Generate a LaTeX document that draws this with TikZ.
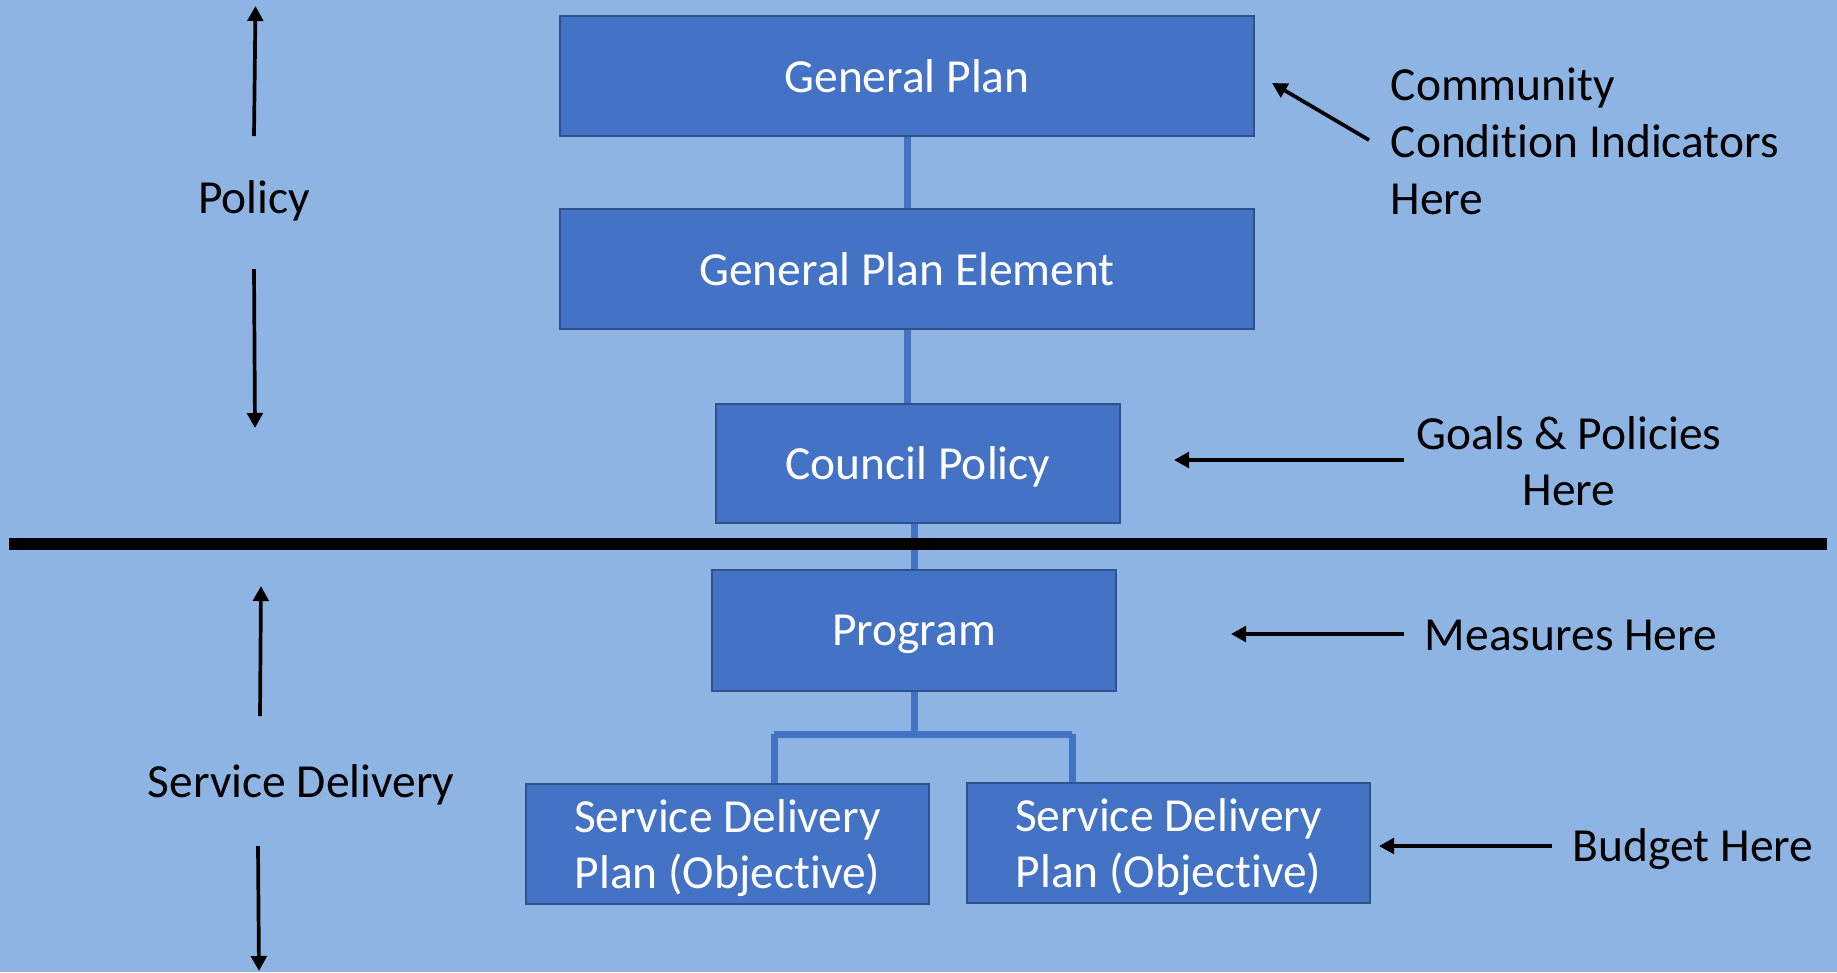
\documentclass[tikz,border=0pt]{standalone}
\usepackage{fontspec}
\setmainfont{Carlito}[Ligatures=NoCommon]
\usetikzlibrary{arrows.meta}
\definecolor{bgblue}{HTML}{8EB4E3}
\definecolor{boxfill}{HTML}{4472C4}
\definecolor{boxline}{HTML}{2F528F}
\tikzset{
  planbox/.style={rectangle, fill=boxfill, draw=boxline, line width=0.02cm,
    inner sep=0pt, text=white, align=center, text depth=0pt,
    font=\fontsize{13.5pt}{15.8pt}\selectfont},
  lbl/.style={inner sep=0pt, text=black, text depth=0pt, font=\fontsize{13.5pt}{16.2pt}\selectfont},
  link/.style={draw=boxfill, line width=0.07cm},
  pointer/.style={draw=black, line width=0.037cm, -{Triangle[length=0.15cm,width=0.155cm]}},
}
\begin{document}
\begin{tikzpicture}[x=0.01cm, y=-0.01cm]
  \fill[bgblue] (0,0) rectangle (1837,972);
  \useasboundingbox (0,0) rectangle (1837,972);

  % boxes
  \node[planbox, minimum width=6.94cm, minimum height=1.20cm] (gp)  at (907,76)    {General Plan};
  \node[planbox, minimum width=6.94cm, minimum height=1.20cm] (gpe) at (907,269)   {General Plan Element};
  \node[planbox, minimum width=4.04cm, minimum height=1.19cm] (cp)  at (918,463.5) {Council Policy};
  \node[planbox, minimum width=4.04cm, minimum height=1.21cm] (prog) at (914,630.5) {Program};
  \node[planbox, minimum width=4.03cm, minimum height=1.20cm] (sdp1) at (727.5,844) {Service Delivery\\Plan (Objective)};
  \node[planbox, minimum width=4.03cm, minimum height=1.20cm] (sdp2) at (1168.5,843) {Service Delivery\\Plan (Objective)};

  % connectors
  \draw[link] (gp.south) -- (gp.south |- gpe.north);
  \draw[link] (gpe.south) -- (gpe.south |- cp.north);
  \draw[link] (prog.north) -- (prog.north |- cp.south);
  \coordinate (bmid) at (914,734);
  \coordinate (bl) at (774,734);
  \coordinate (br) at (1072,734);
  \draw[link] (prog.south) -- (bmid);
  \draw[link] (bl) -- (br);
  \draw[link] (bl) -- (bl |- sdp1.north);
  \draw[link] (br) -- (br |- sdp2.north);

  % divider
  \coordinate (divl) at (9,544);
  \coordinate (divr) at (1827,544);
  \draw[black, line width=0.12cm] (divl) -- (divr);

  % left labels
  \node[lbl] (policy) at (254,197) {Policy};
  \node[lbl] (service) at (301,781) {Service Delivery};
  \coordinate (pu1) at (254,136);
  \coordinate (pu2) at (255.5,6);
  \coordinate (pd1) at (254,269);
  \coordinate (pd2) at (255,428);
  \draw[pointer] (pu1) -- (pu2);
  \draw[pointer] (pd1) -- (pd2);
  \coordinate (su1) at (260,716);
  \coordinate (su2) at (261,586);
  \coordinate (sd1) at (258,846);
  \coordinate (sd2) at (259,971);
  \draw[pointer] (su1) -- (su2);
  \draw[pointer] (sd1) -- (sd2);

  % right labels
  \node[lbl, anchor=west, align=left] (cci) at (1390,141) {Community\\Condition Indicators\\Here};
  \node[lbl, align=center] (goals) at (1569,461) {Goals \& Policies\\Here};
  \node[lbl] (meas) at (1571,635) {Measures Here};
  \node[lbl] (budget) at (1693,845) {Budget Here};

  \coordinate (ca1) at (1369,140);
  \coordinate (ca2) at (1272,83);
  \draw[pointer] (ca1) -- (ca2);
  \coordinate (ga1) at (1404,460);
  \coordinate (ga2) at (1174,460);
  \draw[pointer] (ga1) -- (ga2);
  \coordinate (ma1) at (1404,634);
  \coordinate (ma2) at (1231,634);
  \draw[pointer] (ma1) -- (ma2);
  \coordinate (ba1) at (1552,846);
  \coordinate (ba2) at (1379,846);
  \draw[pointer] (ba1) -- (ba2);
\end{tikzpicture}
\end{document}
